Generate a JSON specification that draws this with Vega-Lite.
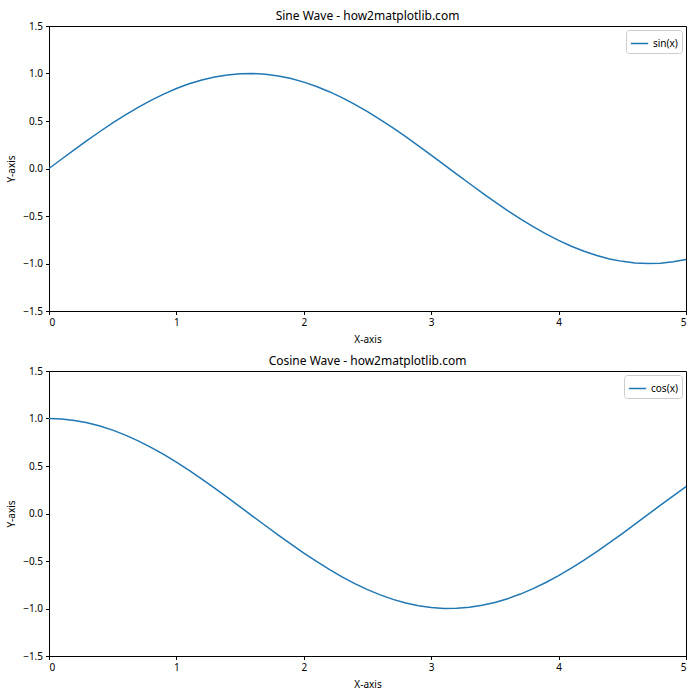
{
  "$schema": "https://vega.github.io/schema/vega-lite/v6.json",
  "padding": {"left": 6, "top": 9, "right": 10, "bottom": 5},
  "background": "white",
  "spacing": 9,
  "datasets": {
    "waves": [
      {"x": 0.0, "sin": 0.0, "cos": 1.0},
      {"x": 0.1, "sin": 0.0998, "cos": 0.995},
      {"x": 0.2, "sin": 0.1987, "cos": 0.9801},
      {"x": 0.3, "sin": 0.2955, "cos": 0.9553},
      {"x": 0.4, "sin": 0.3894, "cos": 0.9211},
      {"x": 0.5, "sin": 0.4794, "cos": 0.8776},
      {"x": 0.6, "sin": 0.5646, "cos": 0.8253},
      {"x": 0.7, "sin": 0.6442, "cos": 0.7648},
      {"x": 0.8, "sin": 0.7174, "cos": 0.6967},
      {"x": 0.9, "sin": 0.7833, "cos": 0.6216},
      {"x": 1.0, "sin": 0.8415, "cos": 0.5403},
      {"x": 1.1, "sin": 0.8912, "cos": 0.4536},
      {"x": 1.2, "sin": 0.932, "cos": 0.3624},
      {"x": 1.3, "sin": 0.9636, "cos": 0.2675},
      {"x": 1.4, "sin": 0.9854, "cos": 0.17},
      {"x": 1.5, "sin": 0.9975, "cos": 0.0707},
      {"x": 1.6, "sin": 0.9996, "cos": -0.0292},
      {"x": 1.7, "sin": 0.9917, "cos": -0.1288},
      {"x": 1.8, "sin": 0.9738, "cos": -0.2272},
      {"x": 1.9, "sin": 0.9463, "cos": -0.3233},
      {"x": 2.0, "sin": 0.9093, "cos": -0.4161},
      {"x": 2.1, "sin": 0.8632, "cos": -0.5048},
      {"x": 2.2, "sin": 0.8085, "cos": -0.5885},
      {"x": 2.3, "sin": 0.7457, "cos": -0.6663},
      {"x": 2.4, "sin": 0.6755, "cos": -0.7374},
      {"x": 2.5, "sin": 0.5985, "cos": -0.8011},
      {"x": 2.6, "sin": 0.5155, "cos": -0.8569},
      {"x": 2.7, "sin": 0.4274, "cos": -0.9041},
      {"x": 2.8, "sin": 0.335, "cos": -0.9422},
      {"x": 2.9, "sin": 0.2392, "cos": -0.971},
      {"x": 3.0, "sin": 0.1411, "cos": -0.99},
      {"x": 3.1, "sin": 0.0416, "cos": -0.9991},
      {"x": 3.2, "sin": -0.0584, "cos": -0.9983},
      {"x": 3.3, "sin": -0.1577, "cos": -0.9875},
      {"x": 3.4, "sin": -0.2555, "cos": -0.9668},
      {"x": 3.5, "sin": -0.3508, "cos": -0.9365},
      {"x": 3.6, "sin": -0.4425, "cos": -0.8968},
      {"x": 3.7, "sin": -0.5298, "cos": -0.8481},
      {"x": 3.8, "sin": -0.6119, "cos": -0.791},
      {"x": 3.9, "sin": -0.6878, "cos": -0.7259},
      {"x": 4.0, "sin": -0.7568, "cos": -0.6536},
      {"x": 4.1, "sin": -0.8183, "cos": -0.5748},
      {"x": 4.2, "sin": -0.8716, "cos": -0.4903},
      {"x": 4.3, "sin": -0.9162, "cos": -0.4008},
      {"x": 4.4, "sin": -0.9516, "cos": -0.3073},
      {"x": 4.5, "sin": -0.9775, "cos": -0.2108},
      {"x": 4.6, "sin": -0.9937, "cos": -0.1122},
      {"x": 4.7, "sin": -0.9999, "cos": -0.0124},
      {"x": 4.8, "sin": -0.9962, "cos": 0.0875},
      {"x": 4.9, "sin": -0.9825, "cos": 0.1865},
      {"x": 5.0, "sin": -0.9589, "cos": 0.2837}
    ]
  },
  "config": {
    "font": "Noto Sans",
    "view": {"stroke": "black", "strokeWidth": 1},
    "axis": {
      "grid": false,
      "domainColor": "black",
      "tickColor": "black",
      "tickSize": 3.5,
      "labelFontSize": 10,
      "labelColor": "black",
      "titleFontSize": 10,
      "titleFontWeight": "normal",
      "titleColor": "black",
      "labelPadding": 3
    },
    "title": {"fontSize": 12, "fontWeight": "normal", "color": "black", "offset": -2},
    "legend": {
      "orient": "top-right",
      "offset": 4,
      "strokeColor": "#cccccc",
      "padding": 4,
      "cornerRadius": 3,
      "fillColor": "white",
      "symbolType": "stroke",
      "symbolStrokeWidth": 1.5,
      "symbolSize": 300,
      "labelFontSize": 10,
      "labelColor": "black",
      "title": null
    }
  },
  "vconcat": [
    {
      "width": 637,
      "height": 285,
      "title": "Sine Wave - how2matplotlib.com",
      "data": {"name": "waves"},
      "mark": {"type": "line", "strokeWidth": 1.5},
      "encoding": {
        "x": {"field": "x", "type": "quantitative", "scale": {"domain": [0, 5], "nice": false}, "axis": {"title": "X-axis", "values": [0, 1, 2, 3, 4, 5], "format": "d", "titlePadding": 7}},
        "y": {"field": "sin", "type": "quantitative", "scale": {"domain": [-1.5, 1.5], "nice": false}, "axis": {"title": "Y-axis", "values": [-1.5, -1.0, -0.5, 0.0, 0.5, 1.0, 1.5], "format": ".1f", "titlePadding": 6}},
        "color": {"datum": "sin(x)", "type": "nominal", "scale": {"range": ["#1f77b4"]}, "legend": {"title": null}}
      }
    },
    {
      "width": 637,
      "height": 285,
      "title": "Cosine Wave - how2matplotlib.com",
      "data": {"name": "waves"},
      "mark": {"type": "line", "strokeWidth": 1.5},
      "encoding": {
        "x": {"field": "x", "type": "quantitative", "scale": {"domain": [0, 5], "nice": false}, "axis": {"title": "X-axis", "values": [0, 1, 2, 3, 4, 5], "format": "d", "titlePadding": 7}},
        "y": {"field": "cos", "type": "quantitative", "scale": {"domain": [-1.5, 1.5], "nice": false}, "axis": {"title": "Y-axis", "values": [-1.5, -1.0, -0.5, 0.0, 0.5, 1.0, 1.5], "format": ".1f", "titlePadding": 6}},
        "color": {"datum": "cos(x)", "type": "nominal", "scale": {"range": ["#1f77b4"]}, "legend": {"title": null}}
      }
    }
  ],
  "resolve": {"scale": {"color": "independent"}, "legend": {"color": "independent"}}
}
